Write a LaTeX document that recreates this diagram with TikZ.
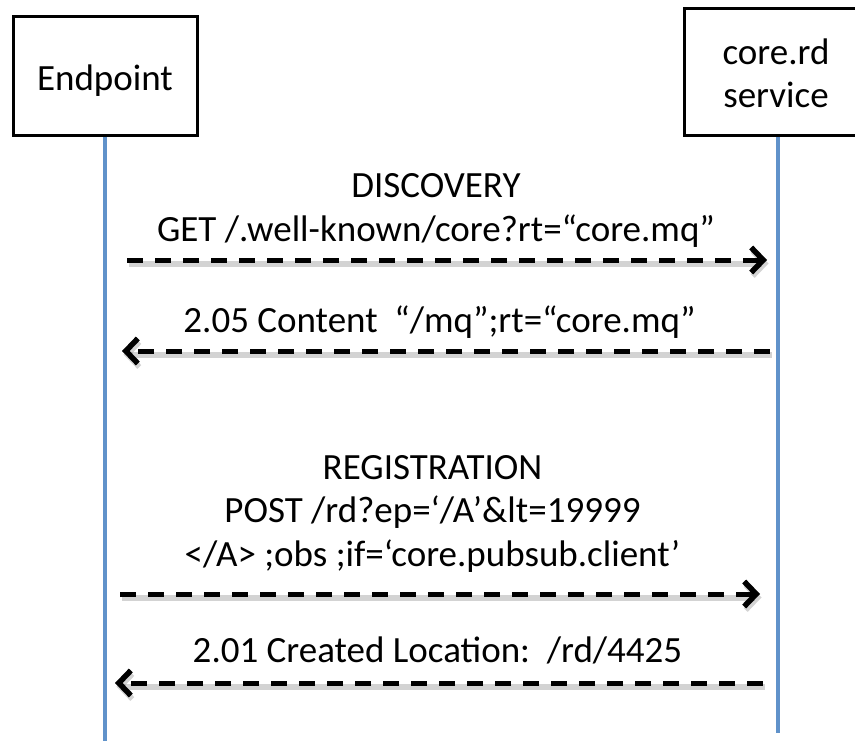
\documentclass[tikz,border=0pt]{standalone}
\usepackage{fontspec}
\setmainfont{Carlito}
\usetikzlibrary{arrows.meta}
\definecolor{lifeblue}{RGB}{96,146,202}
\begin{document}
\begin{tikzpicture}[x=1pt,y=-1pt,
  font=\fontsize{37}{43.5}\selectfont,
  actor/.style={draw=black, line width=3pt, fill=white, minimum width=184pt, inner sep=0pt},
  lifeline/.style={draw=lifeblue, line width=4.5pt},
  msg/.style={line width=5pt, dash pattern=on 16pt off 12pt,
    -{Straight Barb[length=12pt,width=25pt,line width=5.5pt]},
    preaction={draw=black!50, opacity=.35, line width=6pt,
      transform canvas={shift={(1.5pt,-3.5pt)}}}},
  lbl/.style={anchor=base, align=center, inner sep=0pt}
]
\useasboundingbox (0,0) rectangle (855,741);
\clip (0,0) rectangle (855,741);

% participants
\node[actor, minimum height=119pt] (ep) at (105,76) {};
\node[lbl] (eptext) at (105,91) {Endpoint};
\node[actor, minimum height=127pt] (rd) at (776,72) {};
\node[lbl] (rdtext) at (776,108) {core.rd\\service};

% lifelines
\coordinate (epend) at (105,741);
\coordinate (rdend) at (778,733);
\draw[lifeline] (ep.south) -- (epend);
\draw[lifeline] (rd.south -| rdend) -- (rdend);

% discovery exchange (the base anchor sits on the last line)
\node[lbl] (disc) at (436,241) {DISCOVERY\\GET /.well-known/core?rt=“core.mq”};
\coordinate (d1a) at (127,260);
\coordinate (d1b) at (767,260);
\draw[msg] (d1a) -- (d1b);
\node[lbl] (resp1) at (439.5,332) {2.05 Content\ \ “/mq”;rt=“core.mq”};
\coordinate (d2a) at (770,351);
\coordinate (d2b) at (122,351);
\draw[msg] (d2a) -- (d2b);

% registration exchange
\node[lbl] (reg) at (432.5,566) {REGISTRATION\\POST /rd?ep=‘/A’\&lt=19999\\</A> ;obs ;if=‘core.pubsub.client’};
\coordinate (r1a) at (120,594);
\coordinate (r1b) at (760,594);
\draw[msg] (r1a) -- (r1b);
\node[lbl] (resp2) at (437.5,662) {2.01 Created Location:\ \ /rd/4425};
\coordinate (r2a) at (763,683);
\coordinate (r2b) at (115,683);
\draw[msg] (r2a) -- (r2b);
\end{tikzpicture}
\end{document}
